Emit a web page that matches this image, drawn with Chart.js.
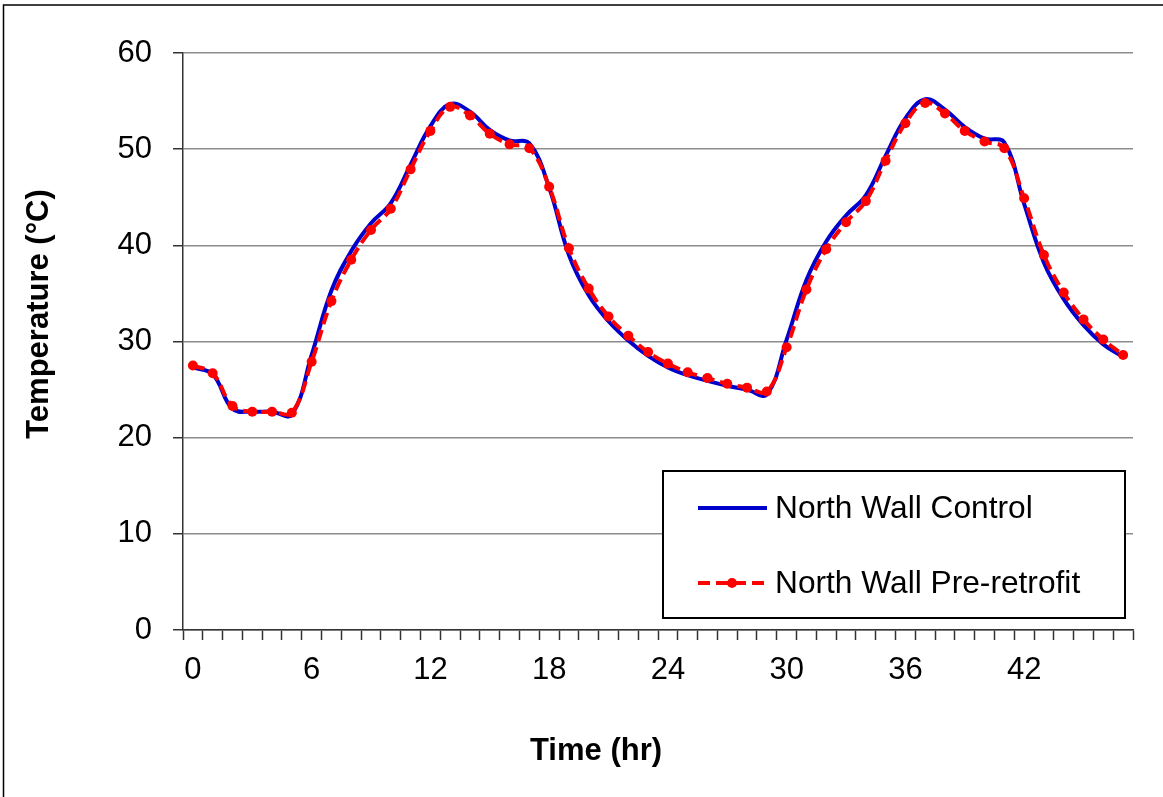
<!DOCTYPE html>
<html>
<head>
<meta charset="utf-8">
<script src="https://cdn.jsdelivr.net/npm/chart.js@4/dist/chart.umd.min.js"></script>
<style>
html,body{margin:0;padding:0;background:#fff;}
#c{display:block;}
</style>
</head>
<body>
<canvas id="c" width="1163" height="797"></canvas>
<script>
// ---- data ----
const hours = [0,1,2,3,4,5,6,7,8,9,10,11,12,13,14,15,16,17,18,19,20,21,22,23,
               24,25,26,27,28,29,30,31,32,33,34,35,36,37,38,39,40,41,42,43,44,45,46,47];
const northWallControl = [27.3,26.6,23.0,22.7,22.7,22.4,28.6,35.3,39.4,42.3,44.4,48.4,
                          52.4,54.7,53.9,52.0,50.9,50.6,46.0,39.0,34.8,32.1,30.1,28.5,
                          27.3,26.5,25.9,25.4,25.0,24.5,30.2,36.4,40.4,43.1,45.2,49.3,
                          53.2,55.2,54.1,52.3,51.1,50.7,44.3,38.2,34.4,31.7,29.7,28.4];
const northWallPreRetrofit = [27.5,26.7,23.3,22.7,22.7,22.6,27.9,34.2,38.5,41.6,43.8,47.9,
                             51.9,54.4,53.5,51.6,50.5,50.1,46.1,39.7,35.5,32.6,30.6,28.9,
                             27.7,26.8,26.2,25.6,25.2,24.8,29.4,35.4,39.6,42.4,44.6,48.8,
                             52.7,54.8,53.7,51.9,50.8,50.1,44.9,39.0,35.1,32.3,30.2,28.6];
const yTicks = [0,10,20,30,40,50,60];
const xLabelEvery = 6;
const seriesNames = ['North Wall Control','North Wall Pre-retrofit'];
const xTitle = 'Time (hr)';
const yTitle = 'Temperature (°C)';

const FONT = '"Liberation Sans", Arial, Helvetica, sans-serif';

const decorPlugin = {
  id: 'decor',
  beforeDraw(chart) {
    const ctx = chart.ctx;
    ctx.save();
    ctx.fillStyle = '#fff';
    ctx.fillRect(0, 0, chart.width, chart.height);
    ctx.restore();
  },
  afterDraw(chart) {
    const ctx = chart.ctx;
    ctx.save();
    // outer frame
    ctx.strokeStyle = '#000';
    ctx.lineWidth = 1.5;
    ctx.strokeRect(3.5, 5, 1400, 1000);

    // axis titles
    ctx.fillStyle = '#000';
    ctx.font = 'bold 31px ' + FONT;
    ctx.textAlign = 'center';
    ctx.textBaseline = 'middle';
    ctx.fillText(xTitle, 596, 751);
    ctx.translate(39, 314);
    ctx.rotate(-Math.PI / 2);
    ctx.fillText(yTitle, 0, 0);
    ctx.restore();

    // legend box
    ctx.save();
    const bx = 663, by = 471, bw = 462, bh = 147;
    ctx.fillStyle = '#fff';
    ctx.fillRect(bx, by, bw, bh);
    ctx.strokeStyle = '#000';
    ctx.lineWidth = 2;
    ctx.strokeRect(bx, by, bw, bh);
    const rows = [508, 583];
    chart.data.datasets.forEach((ds, i) => {
      const y = rows[i];
      ctx.strokeStyle = ds.borderColor;
      ctx.lineWidth = ds.borderWidth;
      ctx.setLineDash(ds.borderDash || []);
      ctx.lineCap = 'butt';
      ctx.beginPath();
      ctx.moveTo(698, y);
      ctx.lineTo(767, y);
      ctx.stroke();
      ctx.setLineDash([]);
      if (ds.pointRadius > 0) {
        ctx.fillStyle = ds.pointBackgroundColor;
        ctx.beginPath();
        ctx.arc(732, y, ds.pointRadius, 0, Math.PI * 2);
        ctx.fill();
      }
      ctx.fillStyle = '#000';
      ctx.font = '31.7px ' + FONT;
      ctx.textAlign = 'left';
      ctx.textBaseline = 'middle';
      ctx.fillText(ds.label, 775, y + 1);
    });
    ctx.restore();
  }
};

new Chart(document.getElementById('c'), {
  type: 'line',
  data: {
    labels: hours,
    datasets: [
      {
        label: seriesNames[0],
        data: northWallControl,
        borderColor: '#0000CC',
        backgroundColor: '#0000CC',
        borderWidth: 4,
        pointRadius: 0,
        tension: 0.4,
        fill: false,
        order: 2
      },
      {
        label: seriesNames[1],
        data: northWallPreRetrofit,
        borderColor: '#FF0000',
        backgroundColor: '#FF0000',
        pointBackgroundColor: '#FF0000',
        pointBorderColor: '#FF0000',
        borderWidth: 4,
        borderDash: [12, 6],
        pointRadius: 5,
        pointBorderWidth: 0,
        tension: 0.4,
        fill: false,
        order: 1
      }
    ]
  },
  options: {
    responsive: false,
    animation: false,
    devicePixelRatio: 1,
    layout: { padding: { left: 0, top: 53, right: 30, bottom: 0 } },
    plugins: { legend: { display: false }, tooltip: { enabled: false }, title: { display: false } },
    scales: {
      x: {
        type: 'category',
        offset: true,
        grid: {
          offset: true,
          drawOnChartArea: false,
          drawTicks: true,
          tickLength: 10,
          tickColor: '#333',
          tickWidth: 1.5
        },
        border: { color: '#333', width: 1.5 },
        ticks: {
          autoSkip: false,
          maxRotation: 0,
          minRotation: 0,
          padding: 12,
          color: '#000',
          font: { family: FONT, size: 31 },
          callback: (v, i) => (i % xLabelEvery === 0 ? String(hours[i]) : '')
        },
        afterFit: (s) => { s.height = 167; }
      },
      y: {
        min: yTicks[0],
        max: yTicks[yTicks.length - 1],
        afterBuildTicks: (s) => { s.ticks = yTicks.map(v => ({ value: v })); },
        grid: { color: '#8c8c8c', lineWidth: 1.5, tickLength: 10, tickColor: '#333', tickWidth: 1.5 },
        border: { color: '#333', width: 1.5 },
        ticks: {
          padding: 21,
          color: '#000',
          font: { family: FONT, size: 31 }
        },
        afterFit: (s) => { s.width = 183; }
      }
    }
  },
  plugins: [decorPlugin]
});
</script>
</body>
</html>
